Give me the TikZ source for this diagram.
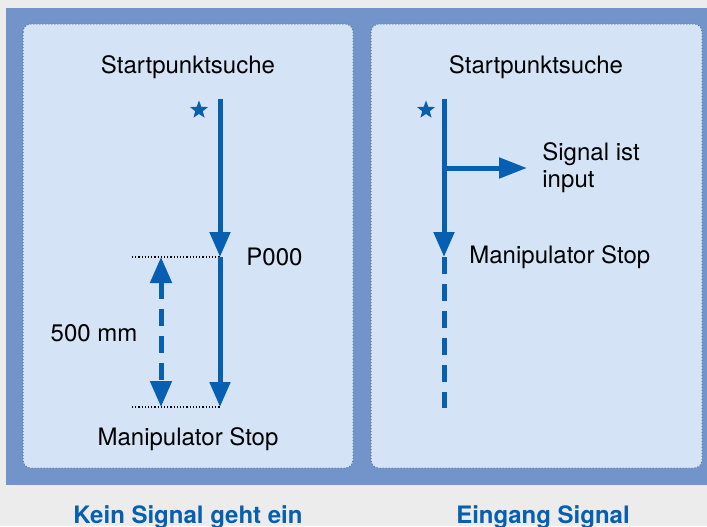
\documentclass[tikz,border=0pt]{standalone}
\usepackage{fontspec}
\setmainfont{TeX Gyre Heros}
\usetikzlibrary{arrows.meta,positioning,shapes.geometric}

\definecolor{pagegray}{HTML}{ECECEC}
\definecolor{frameblue}{HTML}{7394CA}
\definecolor{panelblue}{HTML}{D4E4F6}
\definecolor{panelline}{HTML}{567690}
\definecolor{moveblue}{HTML}{065FB0}

\tikzset{
  panel/.style={fill=panelblue, draw=panelline, densely dotted, line width=0.5pt, rounded corners=4pt},
  move/.style={draw=moveblue, line width=2.5pt, -{Triangle[length=12.5pt,width=10pt]}},
  movedash/.style={draw=moveblue, line width=2.5pt, dash pattern=on 8.5pt off 5pt},
  measure/.style={draw=black, densely dotted, line width=0.6pt},
  startstar/.style={star, star points=5, star point ratio=2.4, fill=moveblue, inner sep=0pt, minimum size=9.5pt},
  label/.style={font=\fontsize{12}{13.5}\selectfont, inner sep=1pt},
  caption/.style={font=\fontsize{12}{13.5}\selectfont\bfseries, text=moveblue}
}

\begin{document}
\begin{tikzpicture}[x=0.5pt, y=-0.5pt]

\fill[pagegray] (0,0) rectangle (707,526);
\useasboundingbox (0,0) rectangle (707,526);
\fill[frameblue] (6,8) rectangle (707,485);

% two panels
\draw[panel] (23,24) rectangle (353,468);
\draw[panel] (371,24) rectangle (702,468);

% left panel: no signal
\node[label] (titleL) at (188,67) {Startpunktsuche};
\node[startstar] (starL) at (199,110) {};
\coordinate (topL) at (220,99);
\coordinate (pointL) at (220,257);
\coordinate (stopL) at (220,407);
\coordinate (measTop) at (132,257);
\coordinate (measBot) at (132,407);
\coordinate (distTop) at (161,257);
\coordinate (distBot) at (161,407);

\draw[measure] (measTop) -- (pointL);
\draw[measure] (measBot) -- (stopL);
\draw[move] (topL) -- (pointL);
\draw[move] (pointL) -- (stopL);
\draw[movedash, {Triangle[length=13pt,width=10.5pt]}-{Triangle[length=13pt,width=10.5pt]}] (distTop) -- (distBot);

\node[label, anchor=west] (p000) at (244,257) {P000};
\node[label] (distL) at (94,333) {500 mm};
\node[label] (stopTextL) at (188,439) {Manipulator Stop};
\node[caption] (capL) at (188,517) {Kein Signal geht ein};

% right panel: input signal
\node[label] (titleR) at (536,67) {Startpunktsuche};
\node[startstar] (starR) at (426,110) {};
\coordinate (topR) at (444,99);
\coordinate (branchR) at (444,168);
\coordinate (stopR) at (444,257);
\coordinate (endR) at (444,408);
\coordinate (signalR) at (527,168);

\draw[move] (topR) -- (stopR);
\draw[move, -{Triangle[length=14pt,width=10pt]}] ([xshift=-1.25pt]branchR) -- (signalR);
\draw[movedash] (stopR) -- (endR);

\node[label, anchor=west, align=left] (signalText) at (540,168) {Signal ist\\input};
\node[label, anchor=west] (stopTextR) at (467,257) {Manipulator Stop};
\node[caption] (capR) at (543,517) {Eingang Signal};

\end{tikzpicture}
\end{document}
